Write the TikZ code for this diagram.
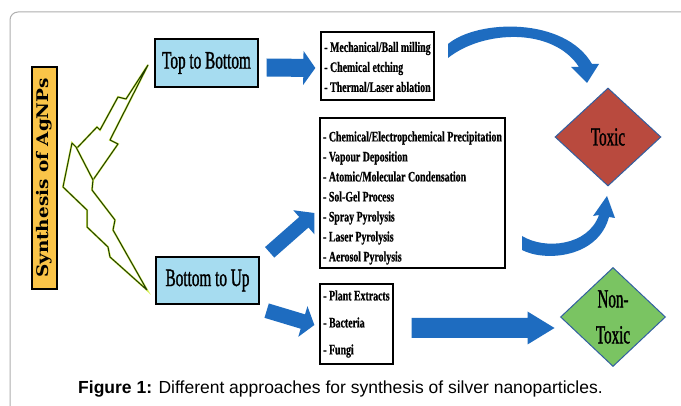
\documentclass[tikz,border=0pt]{standalone}
\usepackage{fontspec}
\usetikzlibrary{shapes.geometric,calc}
\setmainfont{Liberation Serif}
\newfontfamily\condfont[FakeStretch=0.61,FakeBold=1.2]{Liberation Serif}
\newfontfamily\listfont[FakeStretch=0.68,FakeBold=0.6]{Liberation Serif}
\newfontfamily\diafont[FakeStretch=0.58,FakeBold=1.2]{Liberation Serif}
\newfontfamily\synfont[FakeStretch=1.15]{DejaVu Serif}
\newfontfamily\capfont{Liberation Sans}
\definecolor{ablue}{RGB}{30,108,192}
\definecolor{boxblue}{RGB}{166,220,240}
\definecolor{synyellow}{RGB}{250,196,72}
\definecolor{toxred}{RGB}{185,74,62}
\definecolor{nontox}{RGB}{122,196,98}
\definecolor{diaedge}{RGB}{50,95,160}
\definecolor{boltgreen}{RGB}{30,60,0}
\definecolor{boltglow}{RGB}{215,240,90}
\definecolor{framegray}{RGB}{175,175,175}
\newcommand\myblkarrow[5]{%
  \coordinate (ba-h) at ($(#2)!#5!(#1)$);
  \fill[ablue] ($(#1)!#3!90:(#2)$) -- ($(ba-h)!#3!90:(#2)$) -- ($(ba-h)!#4!90:(#2)$) -- (#2)
    -- ($(ba-h)!#4!-90:(#2)$) -- ($(ba-h)!#3!-90:(#2)$) -- ($(#1)!#3!-90:(#2)$) -- cycle;
}
\tikzset{
  lbox/.style={draw=black, line width=1.3pt, fill=boxblue, inner sep=0pt,
    font=\condfont\fontsize{25}{28}\selectfont},
  listbox/.style={draw=black, line width=1.3pt, fill=white, inner sep=0pt, align=left,
    font=\listfont\bfseries\fontsize{14.5}{20}\selectfont},
  dia/.style={diamond, draw=diaedge, line width=1pt, inner sep=0pt, align=center,
    font=\diafont\fontsize{26}{36}\selectfont},
  bolt/.style={draw=boltgreen, line width=1pt, line join=round,
    preaction={draw=boltglow, line width=2pt}},
}
\begin{document}
\begin{tikzpicture}[x=1pt,y=-1pt]
\useasboundingbox (0,0) rectangle (681,406);
\fill[white] (0,0) rectangle (681,406);
\draw[framegray, line width=1pt, rounded corners=8pt] (10,430) -- (10,12) -- (700,12);

% boxes
\node[lbox, minimum width=222, minimum height=25, rotate=90, fill=synyellow,
  font=\synfont\bfseries\fontsize{16}{18}\selectfont] (syn) at (44.5,178) {Synthesis of AgNPs};
\node[lbox, minimum width=103, minimum height=48] (tb) at (206.5,63) {Top to Bottom};
\node[lbox, minimum width=103, minimum height=47] (bu) at (207.5,280.5) {Bottom to Up};
\node[listbox, minimum width=113, minimum height=68] (mech) at (377.5,66)
  {\rule{0pt}{12pt}-\,Mechanical/Ball milling\\-\,Chemical etching\\-\,Thermal/Laser\ ablation};
\node[listbox, minimum width=185, minimum height=150] (big) at (412.5,193)
  {\rule{0pt}{20pt}- Chemical/Electropchemical Precipitation\\- Vapour Deposition\\- Atomic/Molecular Condensation\\- Sol-Gel Process\\- Spray Pyrolysis\\- Laser Pyrolysis\\- Aerosol Pyrolysis};
\node[listbox, minimum width=73, minimum height=80,
  font=\listfont\bfseries\fontsize{14.5}{27}\selectfont] (plant) at (356.5,324)
  {-\,Plant Extracts\\-\,Bacteria\\-\,Fungi};
\node[dia, fill=toxred, minimum width=106, minimum height=98] (tox) at (608,137) {Toxic};
\node[dia, fill=nontox, minimum width=105, minimum height=99] (ntox) at (613,317) {Non-\\Toxic};

% lightning bolts
\path[bolt] (63,187) -- (72,143) -- (77,148) -- (97,127) -- (100,130) -- (118,97) -- (126,99)
  -- (148,65) -- (110,140) -- (118,144) -- (93,180) -- (92,190) -- (115,220) -- (113,230)
  -- (147,290) -- (110,257) -- (108,247) -- (87,227) -- (87,210) -- cycle;
\path[bolt] (76,147) -- (93,180);

% block arrows
\coordinate (a1s) at ($(tb.east)+(8,4.5)$);
\coordinate (a1e) at ($(mech.west)+(-5,2)$);
\myblkarrow{a1s}{a1e}{9pt}{17pt}{12pt}
\coordinate (a2s) at ($(bu.north east)+(10,-4)$);
\coordinate (a2e) at ($(big.west)+(-5,20)$);
\myblkarrow{a2s}{a2e}{7pt}{16pt}{14pt}
\coordinate (a3s) at ($(bu.south east)+(7,6)$);
\coordinate (a3e) at ($(plant.west)+(-5,1)$);
\myblkarrow{a3s}{a3e}{7.5pt}{16pt}{12pt}
\coordinate (a4s) at ($(plant.east)+(18,4)$);
\coordinate (a4e) at ($(ntox.west)+(-5.5,11)$);
\myblkarrow{a4s}{a4e}{10pt}{16.5pt}{27pt}

% curved arrows
\fill[ablue] (448,44) .. controls (478,19) and (565,17) .. (592,64) -- (599,64) -- (587,83)
  -- (571,67) -- (579,67) .. controls (553,27) and (483,30) .. (448,58) -- cycle;
\fill[ablue] (522,236) .. controls (545,250) and (588,246) .. (599,215) -- (593,216) -- (607,196)
  -- (615,218) -- (609,217) .. controls (598,258) and (545,262) .. (522,250) -- cycle;

% caption
\node[font=\capfont\fontsize{17.5}{20}\selectfont, inner sep=0pt] (cap) at (340.5,389)
  {\textbf{Figure 1:} Different approaches for synthesis of silver nanoparticles.};
\end{tikzpicture}
\end{document}
